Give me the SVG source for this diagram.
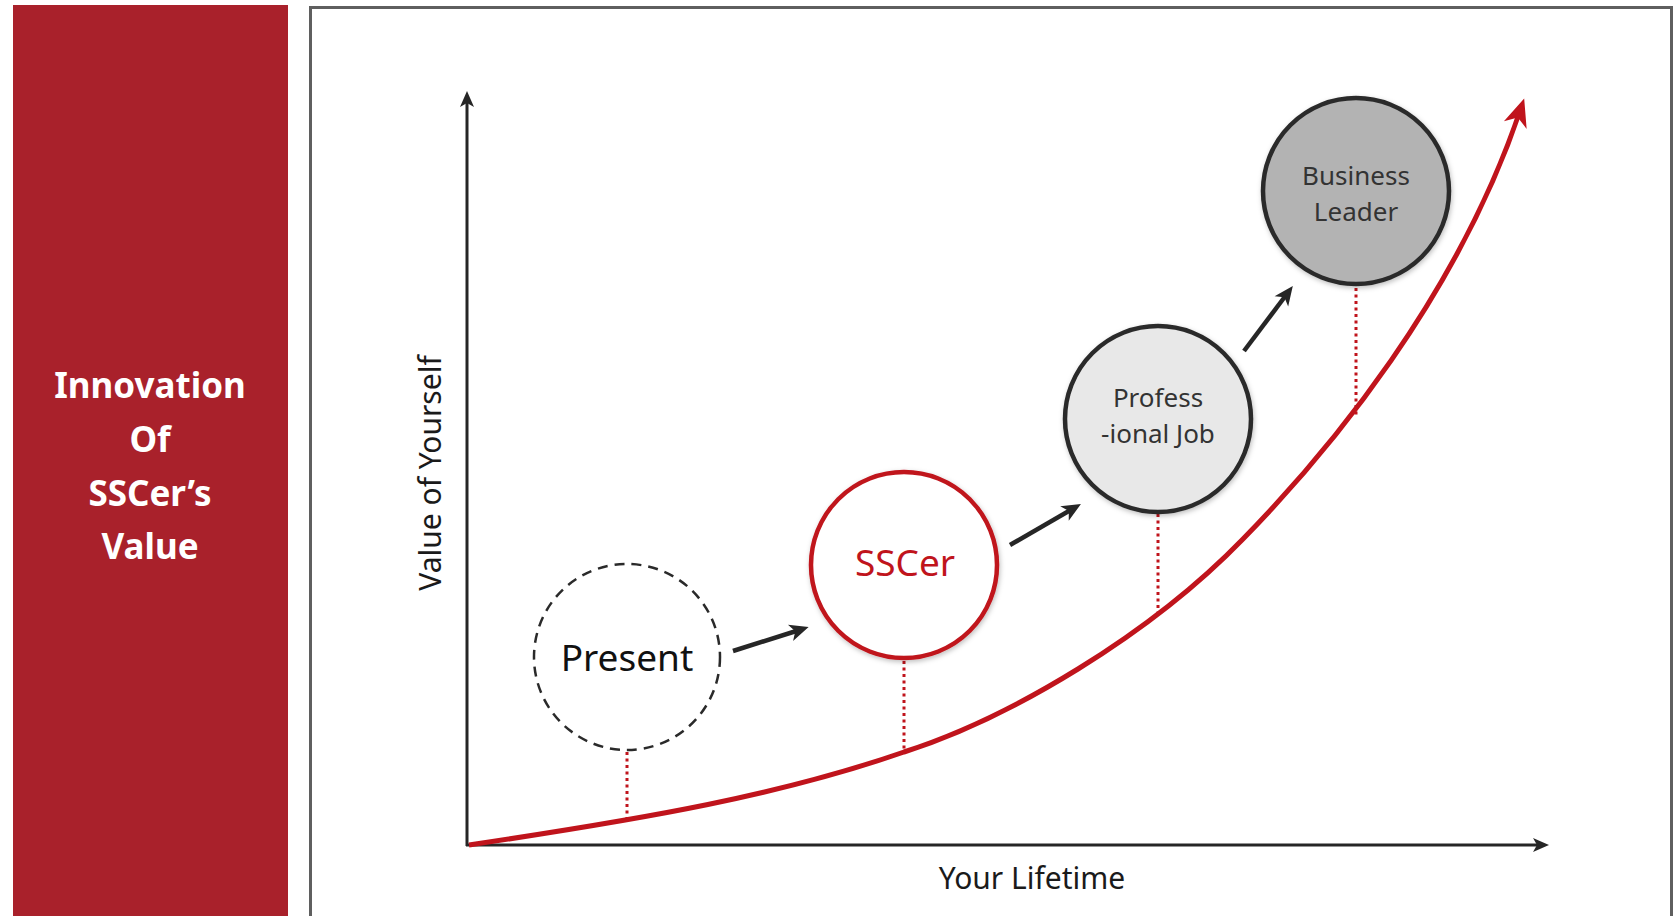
<svg xmlns="http://www.w3.org/2000/svg" width="1673" height="916" viewBox="0 0 1673 916">
  <style>
    .panel-title { font-family: "Noto Sans", "Open Sans", sans-serif; font-weight: bold; font-size: 35px; fill: #ffffff; text-anchor: middle; }
    .axis-label { font-family: "Noto Sans", "Open Sans", sans-serif; font-size: 30px; fill: #1a1a1a; text-anchor: middle; }
    .axis { stroke: #262626; stroke-width: 3; fill: none; }
    .step { stroke: #262626; stroke-width: 4.5; fill: none; }
    .drop { stroke: #c0141c; stroke-width: 3; stroke-dasharray: 3 3.5; fill: none; }
    .growth { stroke: #c0141c; stroke-width: 5; fill: none; }
    .node-text { font-family: "Noto Sans", "Open Sans", sans-serif; text-anchor: middle; }
  </style>
  <defs>
    <marker id="axisHead" markerUnits="userSpaceOnUse" viewBox="-12 -9 20 18" refX="0" refY="0" markerWidth="20" markerHeight="18" orient="auto">
      <path d="M6,0 L-10,-7 L-6,0 L-10,7 Z" fill="#262626"/>
    </marker>
    <marker id="stepHead" markerUnits="userSpaceOnUse" viewBox="-14 -10 24 20" refX="0" refY="0" markerWidth="24" markerHeight="20" orient="auto">
      <path d="M8,0 L-11,-8.5 L-6,0 L-11,8.5 Z" fill="#262626"/>
    </marker>
    <marker id="growthHead" markerUnits="userSpaceOnUse" viewBox="-22 -14 36 28" refX="0" refY="0" markerWidth="36" markerHeight="28" orient="auto">
      <path d="M10,0 L-18,-12 L-10,0 L-18,12 Z" fill="#c0141c"/>
    </marker>
    <filter id="softShadow" x="-20%" y="-20%" width="140%" height="140%">
      <feDropShadow dx="1" dy="2" stdDeviation="2.5" flood-color="#000000" flood-opacity="0.25"/>
    </filter>
  </defs>

  <rect width="1673" height="916" fill="#ffffff"/>

  <!-- left title panel -->
  <g id="title-panel">
    <rect x="13" y="5" width="275" height="915" fill="#a9212b"/>
    <text class="panel-title" x="150" y="398">Innovation</text>
    <text class="panel-title" x="150" y="452">Of</text>
    <text class="panel-title" x="150" y="506">SSCer’s</text>
    <text class="panel-title" x="150" y="559">Value</text>
  </g>

  <!-- chart frame -->
  <rect id="frame" x="310.5" y="7.5" width="1361" height="920" fill="#ffffff" stroke="#5f5f5f" stroke-width="3"/>

  <!-- axes, growth curve, drop lines and step arrows -->
  <g id="connectors">
    <line class="axis" x1="467" y1="846" x2="467" y2="97" marker-end="url(#axisHead)"/>
    <line class="axis" x1="466" y1="845" x2="1543" y2="845" marker-end="url(#axisHead)"/>

    <line class="drop" x1="627" y1="752" x2="627" y2="819"/>
    <line class="drop" x1="904" y1="661" x2="904" y2="752"/>
    <line class="drop" x1="1158" y1="514" x2="1158" y2="615"/>
    <line class="drop" x1="1356" y1="288" x2="1356" y2="416"/>

    <path class="growth" d="M469,845 C650,818 780,795 904,752 C1010,718 1150,635 1243,539 C1330,450 1458,296 1521,108" marker-end="url(#growthHead)"/>

    <line class="step" x1="733" y1="651" x2="801" y2="629.5" marker-end="url(#stepHead)"/>
    <line class="step" x1="1010" y1="545" x2="1074" y2="508" marker-end="url(#stepHead)"/>
    <line class="step" x1="1244" y1="351" x2="1288" y2="292.5" marker-end="url(#stepHead)"/>
  </g>

  <!-- axis titles -->
  <text class="axis-label" x="1032" y="889">Your Lifetime</text>
  <text class="axis-label" transform="translate(441,473) rotate(-90)" x="0" y="0">Value of Yourself</text>

  <!-- career stages -->
  <g id="node-present">
    <circle cx="627" cy="657" r="93" fill="#ffffff" stroke="#2a2a2a" stroke-width="2.5" stroke-dasharray="10 7"/>
    <text class="node-text" x="627" y="671" font-size="37" fill="#111111">Present</text>
  </g>

  <g id="node-sscer">
    <circle cx="904" cy="565" r="93" fill="#ffffff" stroke="#c0141c" stroke-width="4.5" filter="url(#softShadow)"/>
    <text class="node-text" x="905" y="576" font-size="37" fill="#c0141c">SSCer</text>
  </g>

  <g id="node-professional">
    <circle cx="1158" cy="419" r="93" fill="#e8e8e8" stroke="#2a2a2a" stroke-width="4.5" filter="url(#softShadow)"/>
    <text class="node-text" x="1158" y="407" font-size="26" fill="#333333">Profess</text>
    <text class="node-text" x="1158" y="443" font-size="26" fill="#333333">-ional Job</text>
  </g>

  <g id="node-business">
    <circle cx="1356" cy="191" r="93" fill="#b3b3b3" stroke="#2a2a2a" stroke-width="4.5" filter="url(#softShadow)"/>
    <text class="node-text" x="1356" y="185" font-size="26" fill="#333333">Business</text>
    <text class="node-text" x="1356" y="221" font-size="26" fill="#333333">Leader</text>
  </g>
</svg>
